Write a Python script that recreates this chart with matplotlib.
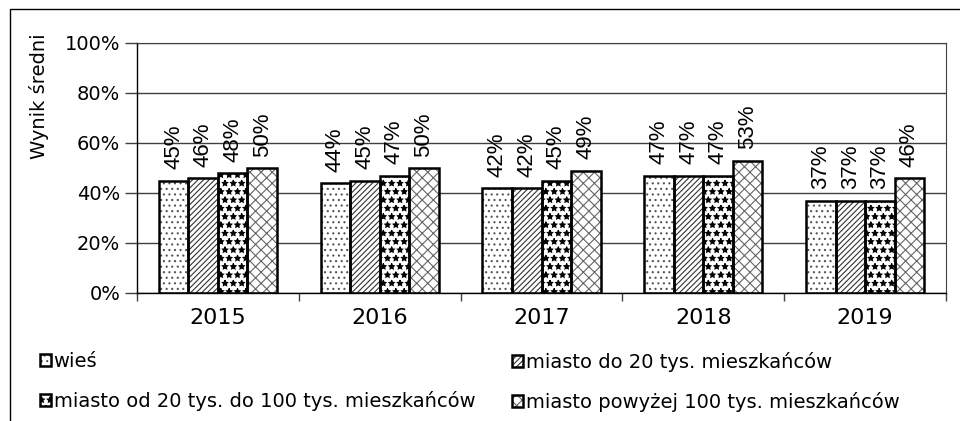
import numpy as np
import matplotlib
matplotlib.use('Agg')
import matplotlib.pyplot as plt
from matplotlib.patches import Rectangle
from matplotlib.legend_handler import HandlerTuple

plt.rcParams['font.family'] = ['DejaVu Sans']
plt.rcParams['hatch.linewidth'] = 0.8

# data
years = ['2015', '2016', '2017', '2018', '2019']
wies = [45, 44, 42, 47, 37]
do20 = [46, 45, 42, 47, 37]
od20do100 = [48, 47, 45, 47, 37]
pow100 = [50, 50, 49, 53, 46]
series_names = ['wieś', 'miasto do 20 tys. mieszkańców',
                'miasto od 20 tys. do 100 tys. mieszkańców',
                'miasto powyżej 100 tys. mieszkańców']
series = [wies, do20, od20do100, pow100]
hatches = ['...', '//////', '**', 'xxx']
hatch_colors = ['#555555', '#333333', 'black', '#666666']

fig = plt.figure(figsize=(9.6, 4.21), dpi=100)
ax = fig.add_axes([137/960, 1 - 293/421, (946 - 137)/960, 250/421])

x = np.arange(len(years))
w = 0.1825
handles = []
for i, (vals, h, hc) in enumerate(zip(series, hatches, hatch_colors)):
    pos = x + (i - 1.5) * w
    hb = ax.bar(pos, vals, w, color='white', edgecolor=hc, hatch=h, linewidth=0, zorder=2)
    ob = ax.bar(pos, vals, w, fill=False, edgecolor='black', linewidth=1.8, zorder=3)
    handles.append((hb[0], ob[0]))
    for p, v in zip(pos, vals):
        ax.annotate(f'{v}%', (p, v), xytext=(0, 8), textcoords='offset points',
                    rotation=90, ha='center', va='bottom', fontsize=16,
                    family='Liberation Sans')

ax.set_ylim(0, 100)
ax.set_xlim(-0.5, len(years) - 0.5)
ax.set_yticks(range(0, 101, 20))
ax.set_yticklabels([f'{t}%' for t in range(0, 101, 20)], fontsize=14)
ax.yaxis.grid(True, color='#404040', linewidth=1)
ax.set_axisbelow(True)
ax.set_xticks(x)
ax.set_xticklabels(years, fontsize=16)
ax.set_xticks(np.arange(-0.5, len(years)), minor=True)
ax.tick_params(axis='x', which='major', length=0, pad=11)
ax.tick_params(axis='x', which='minor', length=6, width=1, color='#404040')
ax.tick_params(axis='y', length=9, width=1, color='#404040', pad=3)
for s in ['left', 'bottom']:
    ax.spines[s].set_color('black')
    ax.spines[s].set_linewidth(1)
ax.spines['right'].set_color('#404040')
ax.spines['top'].set_color('#404040')

fig.text(39/960, 1 - 33/421, 'Wynik średni', rotation=90, ha='center', va='top', fontsize=14)

# legend: two columns placed separately
leg_kw = dict(loc='upper left', frameon=False, fontsize=14, handlelength=0.55,
              handleheight=0.55, handletextpad=0.15, labelspacing=1.02,
              borderpad=0, borderaxespad=0,
              handler_map={tuple: HandlerTuple(ndivide=1, pad=0)})
fig.legend([handles[0], handles[2]], [series_names[0], series_names[2]],
           bbox_to_anchor=(40/960, 1 - 352/421), **leg_kw)
fig.legend([handles[1], handles[3]], [series_names[1], series_names[3]],
           bbox_to_anchor=(512/960, 1 - 352/421), **leg_kw)

fig.add_artist(Rectangle((10/960, -0.1), 1.2, 1 - 9/421 + 0.1, transform=fig.transFigure,
                         fill=False, edgecolor='black', linewidth=1))

fig.savefig('out.png', dpi=100)
